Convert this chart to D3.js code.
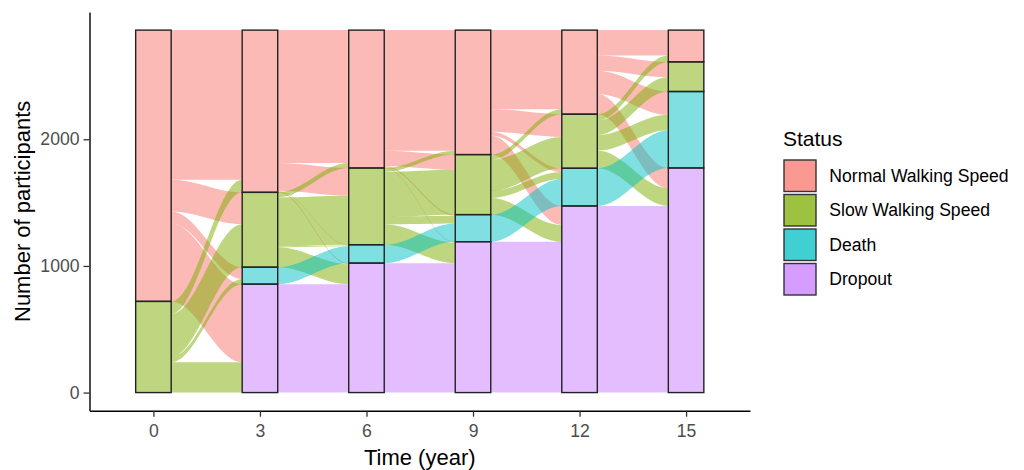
<!DOCTYPE html>
<html>
<head>
<meta charset="utf-8">
<script src="https://cdn.jsdelivr.net/npm/d3@7"></script>
<style>
  html, body { margin: 0; padding: 0; background: #ffffff; }
  svg { display: block; font-family: "Liberation Sans", Arial, sans-serif; }
</style>
</head>
<body>
<svg id="chart" width="1024" height="470"></svg>
<script>
// ---------------- DATA ----------------
const times = ["0", "3", "6", "9", "12", "15"];
const statuses = ["Normal Walking Speed", "Slow Walking Speed", "Death", "Dropout"];
const statusColors = ["#F8766D", "#7CAE00", "#00BFC4", "#C77CFF"];

// participants per status at each time point
const normalCounts  = [2142, 1281, 1089, 983, 664, 251];
const slowCounts    = [720,  591,  606,  474, 427, 234];
const deathCounts   = [0,    134,  145,  214, 298, 604];
const dropoutCounts = [0,    856,  1022, 1191, 1473, 1773];

// transitions between consecutive time points: rows = from status, cols = to status
// order: Normal, Slow, Death, Dropout
const flow0to3   = [[1181, 251, 94, 616], [100, 340, 40, 240], [0, 0, 0, 0], [0, 0, 0, 0]];
const flow3to6   = [[1049, 219, 5, 8], [40, 387, 6, 158], [0, 0, 134, 0], [0, 0, 0, 856]];
const flow6to9   = [[953, 120, 9, 7], [30, 354, 60, 162], [0, 0, 145, 0], [0, 0, 0, 1022]];
const flow9to12  = [[624, 179, 30, 150], [40, 248, 54, 132], [0, 0, 214, 0], [0, 0, 0, 1191]];
const flow12to15 = [[200, 120, 184, 160], [51, 114, 122, 140], [0, 0, 298, 0], [0, 0, 0, 1473]];

const yTicks = [0, 1000, 2000];

// ---------------- LAYOUT ----------------
const svg = d3.select("#chart");
const panel = { left: 89.5, right: 750, top: 12, bottom: 410.7 };

const countsByStatus = [normalCounts, slowCounts, deathCounts, dropoutCounts];
const transitions = [flow0to3, flow3to6, flow6to9, flow9to12, flow12to15];
const total = d3.sum(countsByStatus, c => c[0]);
const pad = total * 0.05;

const x = d3.scalePoint().domain(times).range([panel.left, panel.right]).padding(0.6);
const barW = x.step() / 3;
const y = d3.scaleLinear().domain([-pad, total + pad]).range([panel.bottom, panel.top]);
const color = d3.scaleOrdinal().domain(statuses).range(statusColors);

// stratum extents: stacked bottom-up Dropout, Death, Slow, Normal
const strata = times.map((t, ti) => {
  const res = [];
  let cum = 0;
  for (let s = statuses.length - 1; s >= 0; s--) {
    const v = countsByStatus[s][ti];
    res[s] = { status: statuses[s], time: t, y0: cum, y1: cum + v };
    cum += v;
  }
  return res;
});

// ---------------- FLOWS ----------------
const flowG = svg.append("g");
transitions.forEach((mat, i) => {
  const tA = times[i], tB = times[i + 1];
  const xA = x(tA) + barW / 2, xB = x(tB) - barW / 2;
  const outTop = strata[i].map(s => s.y1);
  const inTop = strata[i + 1].map(s => s.y1);
  const ribbons = [];
  for (let s = 0; s < 4; s++) {
    for (let d = 0; d < 4; d++) {
      if (mat[s][d]) ribbons.push({ s, d, v: mat[s][d] });
    }
  }
  const srcPos = {};
  for (let s = 0; s < 4; s++) {
    let top = outTop[s];
    for (let d = 0; d < 4; d++) {
      const v = mat[s][d];
      if (!v) continue;
      srcPos[s + "-" + d] = [top, top - v];
      top -= v;
    }
  }
  const dstPos = {};
  for (let d = 0; d < 4; d++) {
    let top = inTop[d];
    for (let s = 0; s < 4; s++) {
      const v = mat[s][d];
      if (!v) continue;
      dstPos[s + "-" + d] = [top, top - v];
      top -= v;
    }
  }
  const k = 0.36;
  const c1 = xA + (xB - xA) * k, c2 = xB - (xB - xA) * k;
  ribbons.forEach(r => {
    const a = srcPos[r.s + "-" + r.d], b = dstPos[r.s + "-" + r.d];
    const p = d3.path();
    p.moveTo(xA, y(a[0]));
    p.bezierCurveTo(c1, y(a[0]), c2, y(b[0]), xB, y(b[0]));
    p.lineTo(xB, y(b[1]));
    p.bezierCurveTo(c2, y(b[1]), c1, y(a[1]), xA, y(a[1]));
    p.closePath();
    flowG.append("path")
      .attr("d", p.toString())
      .attr("fill", statusColors[r.s])
      .attr("fill-opacity", 0.5)
      .attr("stroke", "none");
  });
});

// ---------------- STRATA ----------------
const strataG = svg.append("g");
strata.forEach(col => {
  col.forEach(s => {
    if (s.y1 - s.y0 <= 0) return;
    strataG.append("rect")
      .attr("x", x(s.time) - barW / 2)
      .attr("y", y(s.y1))
      .attr("width", barW)
      .attr("height", y(s.y0) - y(s.y1))
      .attr("fill", color(s.status))
      .attr("fill-opacity", 0.5)
      .attr("stroke", "#222")
      .attr("stroke-width", 1.4);
  });
});

// ---------------- AXES ----------------
const yAxis = svg.append("g")
  .attr("transform", `translate(${panel.left},0)`)
  .call(d3.axisLeft(y).tickValues(yTicks).tickFormat(d3.format("d"))
    .tickSize(6).tickPadding(4).tickSizeOuter(0));
yAxis.select(".domain").attr("stroke", "#000").attr("stroke-width", 1.4);
yAxis.selectAll(".tick line").attr("stroke", "#333").attr("stroke-width", 1.3);
yAxis.selectAll(".tick text")
  .attr("font-size", "17.6px").attr("fill", "#4D4D4D")
  .attr("font-family", "Liberation Sans, Arial, sans-serif");

const xAxis = svg.append("g")
  .attr("transform", `translate(0,${panel.bottom})`)
  .call(d3.axisBottom(x).tickSize(6).tickSizeOuter(0));
xAxis.select(".domain").attr("stroke", "#000").attr("stroke-width", 1.4);
xAxis.selectAll(".tick line").attr("stroke", "#333").attr("stroke-width", 1.3);
xAxis.selectAll(".tick text")
  .attr("font-size", "17.6px").attr("fill", "#4D4D4D")
  .attr("font-family", "Liberation Sans, Arial, sans-serif")
  .attr("dy", null).attr("y", 26.3);

svg.append("text")
  .attr("x", (panel.left + panel.right) / 2)
  .attr("y", 465)
  .attr("text-anchor", "middle")
  .attr("font-size", "22px")
  .attr("fill", "#000")
  .text("Time (year)");

svg.append("text")
  .attr("transform", `translate(22.7,${(panel.top + panel.bottom) / 2}) rotate(-90)`)
  .attr("text-anchor", "middle")
  .attr("dy", "0.32em")
  .attr("font-size", "22px")
  .attr("fill", "#000")
  .text("Number of participants");

// ---------------- LEGEND ----------------
const legend = svg.append("g");
legend.append("text")
  .attr("x", 783).attr("y", 146)
  .attr("font-size", "21px").attr("fill", "#000")
  .text("Status");
statuses.forEach((st, i) => {
  const ky = 160 + i * 34.5;
  legend.append("rect")
    .attr("x", 784).attr("y", ky)
    .attr("width", 32).attr("height", 31.5)
    .attr("fill", color(st)).attr("fill-opacity", 0.75)
    .attr("stroke", "#333").attr("stroke-width", 1.4);
  legend.append("text")
    .attr("x", 829.3).attr("y", ky + 15.75)
    .attr("dy", "0.35em")
    .attr("font-size", "17.6px").attr("fill", "#000")
    .text(st);
});
</script>
</body>
</html>
